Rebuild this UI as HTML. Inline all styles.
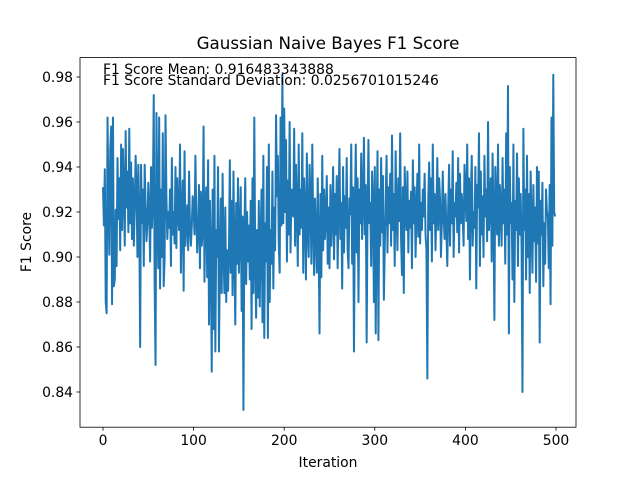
<!DOCTYPE html>
<html><head><meta charset="utf-8"><style>
body{margin:0;background:#fff}
svg{display:block;font-family:"DejaVu Sans","Liberation Sans",sans-serif}
</style></head><body>
<svg id="chart" width="640" height="480" viewBox="0 0 640 480">
<rect x="0" y="0" width="640" height="480" fill="#fff"/>
<text x="328" y="49" font-size="16.7" text-anchor="middle" fill="#000">Gaussian Naive Bayes F1 Score</text>
<g id="ticks"></g>
<path id="line" fill="none" stroke="#1f77b4" stroke-width="2" stroke-linejoin="round"/>
<text x="103" y="74" font-size="13.9" fill="#000">F1 Score Mean: 0.916483343888</text>
<text x="103" y="85" font-size="13.9" fill="#000">F1 Score Standard Deviation: 0.0256701015246</text>
<rect x="80" y="57.6" width="496" height="369.6" fill="none" stroke="#000" stroke-width="0.8"/>
<text x="328" y="467" font-size="13.9" text-anchor="middle">Iteration</text>
<text x="0" y="0" font-size="13.9" text-anchor="middle" transform="translate(31,242) rotate(-90)">F1 Score</text>
</svg>
<script>
const xTicks=[0,100,200,300,400,500];
const yTicks=[0.84,0.86,0.88,0.90,0.92,0.94,0.96,0.98];
const scores=[
.931,.914,.939,.880,.875,.962,.925,.901,.948,.958,.879,.962,.887,.890,.921,.896,.944,.917,.935,.903,
.950,.912,.948,.930,.905,.956,.922,.938,.911,.957,.915,.942,.908,.935,.905,.921,.945,.930,.900,.941,
.918,.860,.941,.915,.930,.896,.941,.922,.907,.915,.933,.920,.898,.940,.913,.925,.972,.888,.852,.964,
.921,.895,.962,.886,.930,.900,.955,.887,.899,.963,.927,.908,.920,.913,.930,.896,.944,.910,.920,.906,
.940,.904,.935,.918,.912,.950,.893,.920,.934,.885,.947,.905,.916,.923,.903,.938,.913,.905,.914,.927,
.921,.910,.945,.918,.902,.913,.932,.895,.929,.905,.912,.958,.889,.921,.931,.891,.943,.870,.925,.902,
.849,.930,.868,.945,.858,.912,.900,.940,.858,.897,.926,.884,.937,.902,.884,.922,.880,.903,.885,.902,
.943,.893,.925,.883,.938,.902,.870,.924,.897,.935,.893,.911,.931,.876,.918,.832,.910,.935,.888,.920,
.898,.914,.890,.925,.868,.935,.884,.962,.899,.873,.912,.882,.925,.878,.908,.930,.871,.945,.864,.915,
.898,.940,.864,.950,.880,.912,.897,.938,.886,.922,.903,.963,.927,.945,.906,.893,.962,.914,.981,.915,
.966,.920,.952,.898,.934,.910,.960,.902,.930,.923,.918,.957,.905,.941,.922,.896,.950,.910,.930,.913,
.955,.893,.935,.920,.890,.946,.912,.900,.941,.926,.897,.950,.915,.892,.926,.910,.893,.935,.906,.866,
.928,.891,.945,.903,.930,.908,.918,.936,.897,.922,.895,.932,.905,.918,.940,.899,.928,.910,.936,.895,
.925,.948,.908,.924,.886,.940,.902,.927,.913,.944,.903,.895,.926,.919,.950,.897,.931,.858,.920,.950,
.902,.935,.880,.930,.915,.946,.908,.925,.953,.910,.932,.862,.920,.952,.915,.924,.896,.938,.925,.880,
.940,.866,.916,.947,.863,.930,.905,.944,.911,.936,.881,.905,.925,.945,.902,.931,.915,.937,.905,.954,
.912,.928,.896,.947,.920,.903,.935,.916,.955,.908,.892,.931,.884,.940,.920,.912,.938,.902,.925,.913,
.929,.895,.943,.915,.931,.900,.920,.937,.909,.950,.906,.924,.912,.930,.918,.937,.910,.903,.846,.925,
.942,.912,.935,.898,.950,.915,.928,.903,.920,.944,.912,.935,.926,.900,.915,.938,.918,.908,.928,.912,
.896,.922,.941,.905,.930,.915,.947,.900,.924,.918,.933,.911,.944,.902,.937,.915,.928,.919,.905,.941,
.930,.916,.950,.908,.935,.890,.926,.945,.905,.920,.913,.940,.886,.932,.922,.955,.896,.938,.910,.927,
.900,.945,.918,.930,.907,.960,.912,.924,.935,.898,.946,.918,.872,.940,.925,.910,.950,.905,.932,.920,
.905,.944,.915,.930,.897,.955,.910,.976,.866,.940,.915,.924,.890,.950,.880,.925,.912,.946,.896,.935,
.910,.928,.905,.840,.957,.912,.930,.890,.945,.900,.928,.884,.938,.915,.893,.932,.907,.922,.889,.940,
.906,.938,.862,.925,.910,.933,.887,.915,.897,.930,.920,.918,.895,.932,.879,.962,.905,.981,.920,.918
];
const xs=v=>103+v*0.906;
const ys=v=>77+(0.98-v)*2250;
const NS='http://www.w3.org/2000/svg';
const g=document.getElementById('ticks');
xTicks.forEach(t=>{
  const l=document.createElementNS(NS,'line');
  l.setAttribute('x1',xs(t));l.setAttribute('x2',xs(t));l.setAttribute('y1',427.2);l.setAttribute('y2',430.7);
  l.setAttribute('stroke','#000');l.setAttribute('stroke-width','0.8');
  
  
  g.appendChild(l);
  const tx=document.createElementNS(NS,'text');
  tx.setAttribute('x',xs(t));tx.setAttribute('y',445);tx.setAttribute('font-size','13.9');tx.setAttribute('text-anchor','middle');
  tx.textContent=t;
  
  
  g.appendChild(tx);
});
yTicks.forEach(t=>{
  const l=document.createElementNS(NS,'line');
  l.setAttribute('x1',76.5);l.setAttribute('x2',80);l.setAttribute('y1',ys(t));l.setAttribute('y2',ys(t));
  l.setAttribute('stroke','#000');l.setAttribute('stroke-width','0.8');
  
  
  g.appendChild(l);
  const tx=document.createElementNS(NS,'text');
  tx.setAttribute('x',73);tx.setAttribute('y',ys(t)+5);tx.setAttribute('font-size','13.9');tx.setAttribute('text-anchor','end');
  tx.textContent=t.toFixed(2);
  
  
  g.appendChild(tx);
});
document.getElementById('line').setAttribute('d',scores.map((v,i)=>(i?'L':'M')+xs(i).toFixed(2)+' '+ys(v).toFixed(2)).join(''));
</script>
</body></html>
